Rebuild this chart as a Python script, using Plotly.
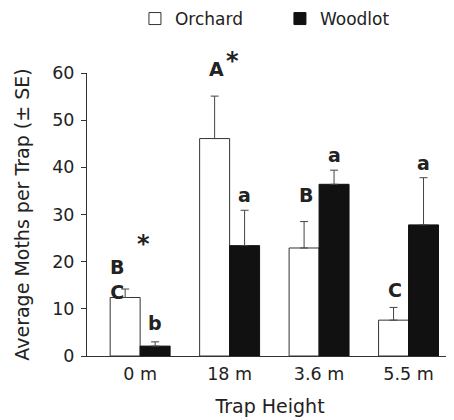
import plotly.graph_objects as go

heights = ["0 m", "18 m", "3.6 m", "5.5 m"]
orchard = [12.4, 46.1, 22.9, 7.6]
orchard_se = [1.8, 9.0, 5.6, 2.7]
woodlot = [2.1, 23.4, 36.4, 27.8]
woodlot_se = [0.9, 7.5, 3.0, 10.0]
orchard_letters = ["B<br>C", "A", "B", "C"]
woodlot_letters = ["b", "a", "a", "a"]

FONT = "DejaVu Sans, Liberation Sans, Arial, sans-serif"
INK = "#222222"

fig = go.Figure()
fig.add_trace(go.Bar(
    x=heights, y=orchard, name="Orchard",
    marker=dict(color="white", line=dict(color="#333333", width=1)),
    error_y=dict(type="data", array=orchard_se, symmetric=False, arrayminus=[0]*4,
                 color="#444444", thickness=1, width=4),
))
fig.add_trace(go.Bar(
    x=heights, y=woodlot, name="Woodlot",
    marker=dict(color="#111111", line=dict(color="#111111", width=1)),
    error_y=dict(type="data", array=woodlot_se, symmetric=False, arrayminus=[0]*4,
                 color="#444444", thickness=1, width=4),
))

off = 0.167
o_shift = [0, 14, 14, 4]
w_shift = [6, 2, 2, 2]
ann = []
for i in range(4):
    top_o = orchard[i] + orchard_se[i]
    top_w = woodlot[i] + woodlot_se[i]
    if i == 0:
        ann.append(dict(x=i - off - 0.09, y=orchard[i] + 0.5, text="<b>B<br>C</b>",
                        yanchor="bottom", yshift=-10))
    else:
        ann.append(dict(x=i - off + 0.02, y=top_o, text="<b>%s</b>" % orchard_letters[i],
                        yanchor="bottom", yshift=o_shift[i]))
    ann.append(dict(x=i + off, y=top_w, text="<b>%s</b>" % woodlot_letters[i],
                    yanchor="bottom", yshift=w_shift[i]))
ann.append(dict(x=0 + 0.04, y=orchard[0] + orchard_se[0], text="<b>*</b>",
                yanchor="bottom", yshift=29, font=dict(size=24)))
ann.append(dict(x=1 - off + 0.2, y=orchard[1] + orchard_se[1], text="<b>*</b>",
                yanchor="bottom", yshift=19, font=dict(size=24)))
for a in ann:
    a.update(xref="x", yref="y", showarrow=False)
    a.setdefault("font", dict(size=19))
    a["font"].update(family=FONT, color=INK)

# page body adds an 8px margin, so the figure is sized/offset to compensate
fig.update_layout(
    width=446, height=412,
    margin=dict(l=79, r=1, t=65, b=64),
    paper_bgcolor="white", plot_bgcolor="white",
    barmode="group", bargap=0.33, bargroupgap=0,
    font=dict(family=FONT, color=INK, size=17),
    showlegend=True,
    legend=dict(orientation="h", x=0.131, xref="paper",
                y=1 - 11 / 412, yref="container", xanchor="left", yanchor="middle",
                font=dict(size=17), entrywidth=100, entrywidthmode="pixels",
                traceorder="normal", itemwidth=30),
    annotations=ann,
    xaxis=dict(
        range=[-0.594, 3.497], showline=True, linecolor="#333333", linewidth=1,
        ticks="", showgrid=False, zeroline=False, ticklabelstandoff=2,
        title=dict(text="Trap Height", font=dict(size=19), standoff=16),
        tickfont=dict(size=17.5),
    ),
    yaxis=dict(
        range=[0, 60], showline=True, linecolor="#333333", linewidth=1,
        ticks="outside", ticklen=5, tickcolor="#333333", dtick=10,
        showgrid=False, zeroline=False, ticklabelstandoff=3,
        title=dict(text="Average Moths per Trap (± SE)", font=dict(size=19), standoff=17),
        tickfont=dict(size=17.5),
    ),
)

fig.write_html("out.html")
